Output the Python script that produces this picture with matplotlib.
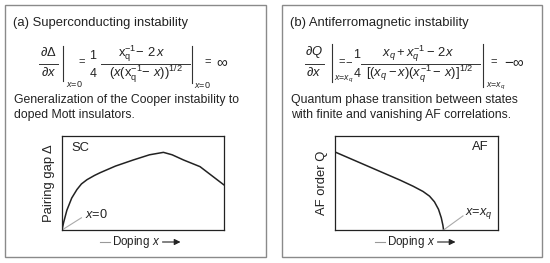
import matplotlib
matplotlib.use("Agg")
import matplotlib.pyplot as plt
from matplotlib.patches import Rectangle, FancyArrowPatch
from matplotlib.lines import Line2D

plt.rcParams['font.family'] = ['Liberation Sans', 'DejaVu Sans']
plt.rcParams['mathtext.fontset'] = 'custom'
plt.rcParams['mathtext.rm'] = 'Liberation Sans'
plt.rcParams['mathtext.it'] = 'Liberation Sans:italic'
plt.rcParams['mathtext.bf'] = 'Liberation Sans:bold'

# --- data ---
sc_x = [0.0, 0.01, 0.03, 0.06, 0.092, 0.12, 0.154, 0.2, 0.236, 0.33, 0.44, 0.54, 0.626, 0.68, 0.75, 0.852, 1.0]
sc_y = [0.0, 0.08, 0.21, 0.34, 0.43, 0.49, 0.535, 0.58, 0.61, 0.68, 0.745, 0.80, 0.826, 0.80, 0.745, 0.674, 0.479]
af_x = [0.0, 0.1, 0.2, 0.3, 0.4, 0.48, 0.54, 0.58, 0.61, 0.635, 0.652, 0.662, 0.666]
af_y = [0.83, 0.755, 0.68, 0.605, 0.53, 0.465, 0.41, 0.36, 0.30, 0.22, 0.13, 0.05, 0.0]
xq = 0.666

titles = ["(a) Superconducting instability", "(b) Antiferromagnetic instability"]
descriptions = [
    "Generalization of the Cooper instability to\ndoped Mott insulators.",
    "Quantum phase transition between states\nwith finite and vanishing AF correlations.",
]
ylabels = ["Pairing gap Δ", "AF order Q"]
tags = ["SC", "AF"]
xlabel = "Doping $x$"

W, H = 550, 263
fig = plt.figure(figsize=(5.5, 2.63), dpi=100)

def fx(px):
    return px / W

def fy(py):
    return 1 - py / H

tc = '#222222'

def T(x, y, s, fs=9.4, ha='center', va='center'):
    fig.text(fx(x), fy(y), s, fontsize=fs, color=tc, ha=ha, va=va)

def B(x, y, s, fs=9.4, ha='center'):
    T(x, y, s, fs=fs, ha=ha, va='baseline')

def L(x0, y0, x1, y1, lw=0.7, c='#333333'):
    fig.add_artist(Line2D([fx(x0), fx(x1)], [fy(y0), fy(y1)], transform=fig.transFigure,
                          color=c, linewidth=lw))

# panel boxes
for x0, x1 in [(5, 266), (282, 542)]:
    fig.patches.append(Rectangle((fx(x0), fy(257)), fx(x1) - fx(x0), fy(4.5) - fy(257),
                                 transform=fig.transFigure, fill=False,
                                 edgecolor='#8a8a8a', linewidth=1.0))

# ---- equation (a) ----
B(48.5, 55.5, r'$\partial\Delta$')
B(48.5, 75.5, r'$\partial x$')
L(39, 63.5, 58, 63.5)
L(63, 46, 63, 81, lw=0.8)
T(66, 84, r'$x$=0', fs=6.5, ha='left')
T(81.5, 62, '=', fs=8)
B(93, 59, '1', fs=9)
B(93, 77, '4', fs=9)
B(142, 57, r'$\mathrm{x}_\mathrm{q}^{-1}\!-\,2\,x$')
B(146, 77, r'$(x(\mathrm{x}_\mathrm{q}^{-1}\!-\,x))^{1/2}$')
L(101, 63.5, 190, 63.5)
L(192, 46, 192, 83, lw=0.8)
T(194, 85, r'$x$=0', fs=6.5, ha='left')
T(208, 62, '=', fs=8)
T(222, 62, '∞', fs=11)

# ---- equation (b) ----
B(314, 55.5, r'$\partial Q$')
B(314, 75.5, r'$\partial x$')
L(305, 63.5, 324, 63.5)
L(332, 44, 332, 82, lw=0.8)
T(334.5, 79, r'$x$=$x_q$', fs=6.3, ha='left')
T(341.5, 62, '=', fs=8)
T(348.5, 62.5, '−', fs=8)
B(357, 58.5, '1', fs=9)
B(357, 77, '4', fs=9)
B(418, 56.5, r'$x_q + x_q^{-1} -\, 2x$')
B(420, 77, r'$[(x_q - x)(x_q^{-1} -\, x)]^{1/2}$')
L(361, 63.5, 480, 63.5)
L(483, 44, 483, 87, lw=0.8)
T(485.5, 86, r'$x$=$x_q$', fs=6.3, ha='left')
T(493.5, 62, '=', fs=8)
T(514, 62, '−∞', fs=11)

panel_left = [5, 282]
ax_px = [(62, 224), (335, 498)]
dop_c = [136.5, 411.5]
for i in range(2):
    pl = panel_left[i]
    T(pl + 8, 23, titles[i], fs=9.4, ha='left')
    fig.text(fx(pl + 9), fy(107.5), descriptions[i], fontsize=8.8, color=tc, va='center', ha='left',
             linespacing=1.3)

    a0, a1 = ax_px[i]
    ax = fig.add_axes([fx(a0), fy(230), fx(a1) - fx(a0), fy(136) - fy(230)])
    ax.set_xlim(0, 1)
    ax.set_ylim(0, 1)
    ax.set_xticks([])
    ax.set_yticks([])
    for s in ax.spines.values():
        s.set_linewidth(0.9)
        s.set_color('#222222')
    ax.set_ylabel(ylabels[i], fontsize=9.4, color=tc, labelpad=5)

    # doping label with arrow
    lx = dop_c[i]
    T(lx, 242, xlabel, fs=8.4)
    L(lx - 37, 242, lx - 27, 242, lw=0.8, c='#999999')
    fig.add_artist(FancyArrowPatch((fx(lx + 26), fy(242)), (fx(lx + 44), fy(242)),
                                   transform=fig.transFigure, arrowstyle='-|>',
                                   mutation_scale=9, color='#222222', linewidth=0.8,
                                   shrinkA=0, shrinkB=0))

    if i == 0:
        ax.plot(sc_x, sc_y, color='#222222', linewidth=1.1, solid_capstyle='round')
        ax.text(0.06, 0.87, tags[0], fontsize=9.4, color=tc, va='center', ha='left')
        ax.plot([0, 0.12], [0, 0.13], color='#aaaaaa', linewidth=0.8)
        ax.text(0.14, 0.17, "$x$=0", fontsize=9.2, color=tc, va='center', ha='left')
    else:
        ax.plot(af_x, af_y, color='#222222', linewidth=1.1, solid_capstyle='round')
        ax.text(0.94, 0.88, tags[1], fontsize=9.4, color=tc, va='center', ha='right')
        ax.plot([xq, 0.785], [0, 0.15], color='#aaaaaa', linewidth=0.8)
        ax.text(0.80, 0.18, "$x$=$x_q$", fontsize=9.2, color=tc, va='center', ha='left')

fig.savefig("out.png", dpi=100)
